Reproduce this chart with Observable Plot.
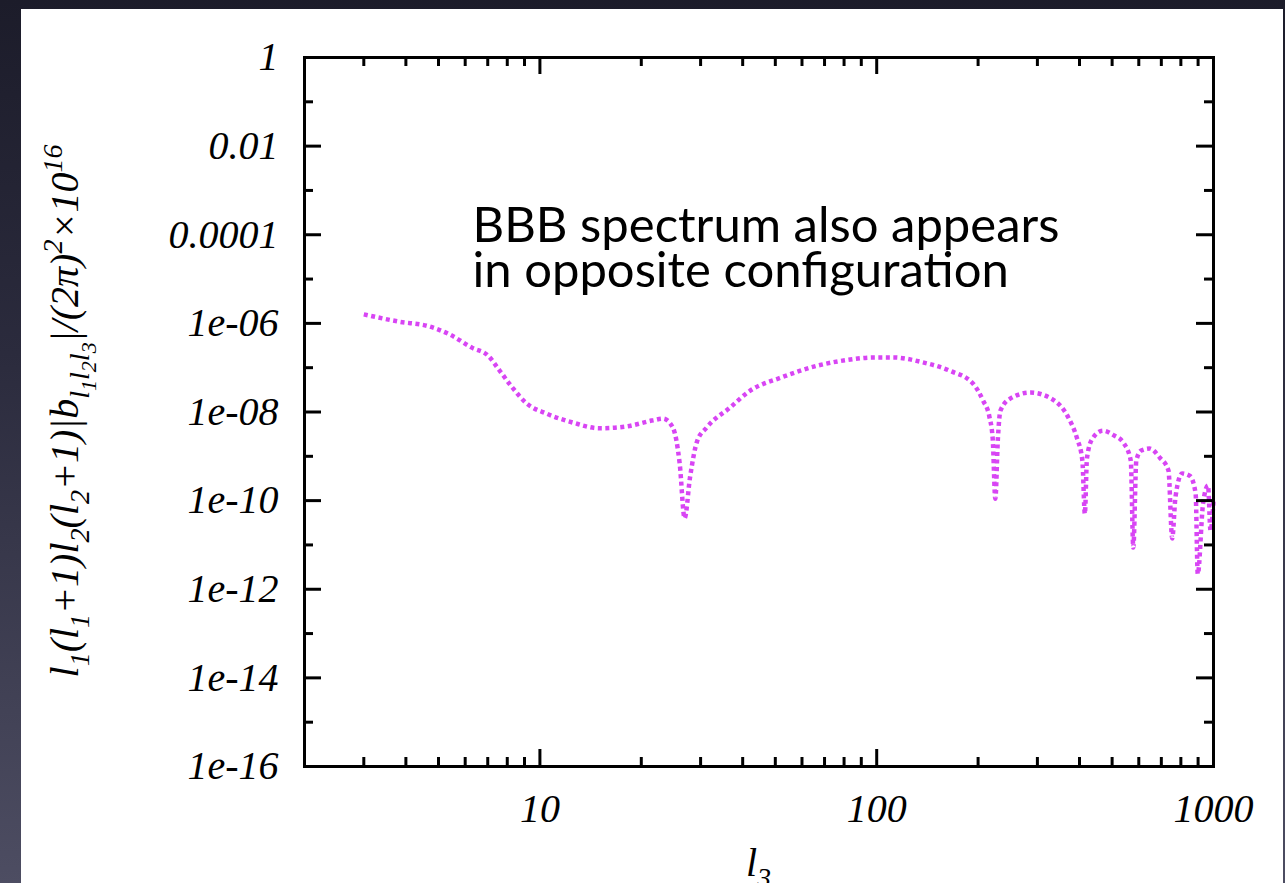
<!DOCTYPE html>
<html><head><meta charset="utf-8">
<script src="https://cdn.jsdelivr.net/npm/d3@7"></script>
<script src="https://cdn.jsdelivr.net/npm/@observablehq/plot@0.6"></script>
<style>
html,body{margin:0;padding:0;width:1285px;height:883px;overflow:hidden;
  background:linear-gradient(180deg,#1c1c2a 0%,#2b2b3d 40%,#4d4d62 100%);}
#panel{position:absolute;left:21px;top:9px;width:1262px;height:874px;background:#fff;}
#chart{position:absolute;left:0;top:0;}
</style></head><body><div id="panel"></div><div id="chart"></div>
<script>
// data
const l3 = [3, 3.8, 4.7, 5.4, 6.3, 7.0, 7.6, 8.3, 9.1, 10.5,
  12.5, 15, 18, 21.7, 23.2, 24.8, 26.0, 26.9, 27.9, 29.3,
  31.3, 36.7, 42, 52, 67, 82, 98, 112, 137, 165,
  193, 207, 216, 221, 225, 229, 233, 249, 286, 330,
  371, 393, 408, 415, 421, 437, 470, 505, 542, 568,
  578, 590, 610, 646, 693, 735, 754, 771, 807, 851,
  885, 898, 931, 963, 980, 1000];
const bispec = [1.6e-6, 1.1e-6, 8.5e-7, 5.6e-7, 2.8e-7, 1.9e-7, 8.5e-8, 3.5e-8, 1.6e-8, 9.1e-9,
  5.8e-9, 4.3e-9, 4.7e-9, 6.5e-9, 7.1e-9, 4.5e-9, 6.9e-10, 4e-11, 3.3e-10, 2.2e-9,
  4.5e-9, 1.26e-8, 3.0e-8, 6.0e-8, 1.12e-7, 1.5e-7, 1.7e-7, 1.7e-7, 1.32e-7, 8.5e-8,
  4.4e-8, 1.8e-8, 7.9e-9, 2.5e-9, 1.1e-10, 2.5e-9, 1.07e-8, 2.0e-8, 2.75e-8, 2.0e-8,
  7.4e-9, 2.6e-9, 8e-10, 5e-11, 9e-10, 2.5e-9, 3.8e-9, 3.0e-9, 1.95e-9, 8e-10,
  8.7e-12, 8e-10, 1.35e-9, 1.5e-9, 9.3e-10, 4.8e-10, 1.4e-11, 1.2e-10, 4.1e-10, 3.6e-10,
  1.45e-10, 2.2e-12, 8.5e-11, 2.2e-10, 2.1e-11, 1e-10];
const xTicks = [10, 100, 1000];
const xTickLabels = ["10", "100", "1000"];
const xMinorTicks = [2,3,4,5,6,7,8,9,20,30,40,50,60,70,80,90,200,300,400,500,600,700,800,900];
const yTicks = [1, 1e-2, 1e-4, 1e-6, 1e-8, 1e-10, 1e-12, 1e-14, 1e-16];
const yTickLabels = ["1", "0.01", "0.0001", "1e-06", "1e-08", "1e-10", "1e-12", "1e-14", "1e-16"];
const yMinorTicks = [1e-1, 1e-3, 1e-5, 1e-7, 1e-9, 1e-11, 1e-13, 1e-15];
const annotation = ["BBB spectrum also appears", "in opposite configuration"];

const table = l3.map((l, i) => ({l, v: bispec[i]}));

const W = 1285, H = 883, mL = 304, mR = 72, mT = 57, mB = 117;
const fw = W - mL - mR, fh = H - mT - mB;
const serif = "'Liberation Serif', 'DejaVu Serif', serif";
const major = 17, minor = 9;

const plot = Plot.plot({
  width: W, height: H,
  marginLeft: mL, marginRight: mR, marginTop: mT, marginBottom: mB,
  style: {background: "transparent", fontFamily: serif, color: "#000"},
  x: {type: "log", domain: [2, 1000]},
  y: {type: "log", domain: [1e-16, 1]},
  marks: [
    Plot.line(table, {x: "l", y: "v", stroke: "#d845f4", strokeWidth: 4.5,
      strokeDasharray: "4 3.5", strokeLinecap: "butt", strokeLinejoin: "miter",
      curve: "monotone-x"}),
    // inward ticks, mirrored on all four sides
    Plot.tickX(xTicks, {x: d => d, insetTop: fh - major, stroke: "#000", strokeWidth: 3}),
    Plot.tickX(xTicks, {x: d => d, insetBottom: fh - major, stroke: "#000", strokeWidth: 3}),
    Plot.tickX(xMinorTicks, {x: d => d, insetTop: fh - minor, stroke: "#000", strokeWidth: 3}),
    Plot.tickX(xMinorTicks, {x: d => d, insetBottom: fh - minor, stroke: "#000", strokeWidth: 3}),
    Plot.tickY(yTicks, {y: d => d, insetRight: fw - major, stroke: "#000", strokeWidth: 3}),
    Plot.tickY(yTicks, {y: d => d, insetLeft: fw - major, stroke: "#000", strokeWidth: 3}),
    Plot.tickY(yMinorTicks, {y: d => d, insetRight: fw - minor, stroke: "#000", strokeWidth: 3}),
    Plot.tickY(yMinorTicks, {y: d => d, insetLeft: fw - minor, stroke: "#000", strokeWidth: 3}),
    Plot.frame({stroke: "#000", strokeWidth: 3}),
    Plot.axisX(xTicks, {tickSize: 0, tickPadding: 27, label: null,
      tickFormat: d => xTickLabels[xTicks.indexOf(d)],
      fontSize: 40, fontStyle: "italic", fontFamily: serif}),
    Plot.axisY(yTicks, {tickSize: 0, tickPadding: 26, label: null,
      tickFormat: d => yTickLabels[yTicks.indexOf(d)],
      fontSize: 40, fontStyle: "italic", fontFamily: serif}),
    Plot.text([annotation.join("\n")], {frameAnchor: "top-left", textAnchor: "start",
      lineAnchor: "top", dx: 168, dy: 152, lineHeight: 0.93, fontSize: 49,
      fontFamily: "Lato, 'Open Sans', sans-serif", fill: "#000"})
  ]
});
document.getElementById("chart").appendChild(plot);

const svg = d3.select(plot);
// rich-text helper
function rich(sel, segs, fs) {
  const size = {0: 1, 1: 0.7, 2: 0.55, "-1": 0.7};
  const off = {0: 0, 1: 0.28, 2: 0.45, "-1": -0.4};
  let cur = 0;
  for (const [t, lv] of segs) {
    const target = off[lv] * fs;
    sel.append("tspan").attr("dy", target - cur).attr("font-size", size[lv] * fs).text(t);
    cur = target;
  }
}
// y axis label
const ylab = svg.append("text")
  .attr("transform", "translate(78,411) rotate(-90)")
  .attr("text-anchor", "middle").attr("font-family", serif)
  .attr("font-style", "italic").attr("fill", "#000");
rich(ylab, [["l",0],["1",1],["(",0],["l",0],["1",1],["+1)",0],["l",0],["2",1],["(",0],["l",0],["2",1],
  ["+1)|b",0],["l",1],["1",2],["l",1],["2",2],["l",1],["3",2],["|/(2π)",0],["2",-1],["×10",0],["16",-1]], 40);
// x axis label
const xlab = svg.append("text")
  .attr("x", mL + fw / 2).attr("y", 876)
  .attr("text-anchor", "middle").attr("font-family", serif)
  .attr("font-style", "italic").attr("fill", "#000");
rich(xlab, [["l",0],["3",1]], 40);
</script></body></html>
